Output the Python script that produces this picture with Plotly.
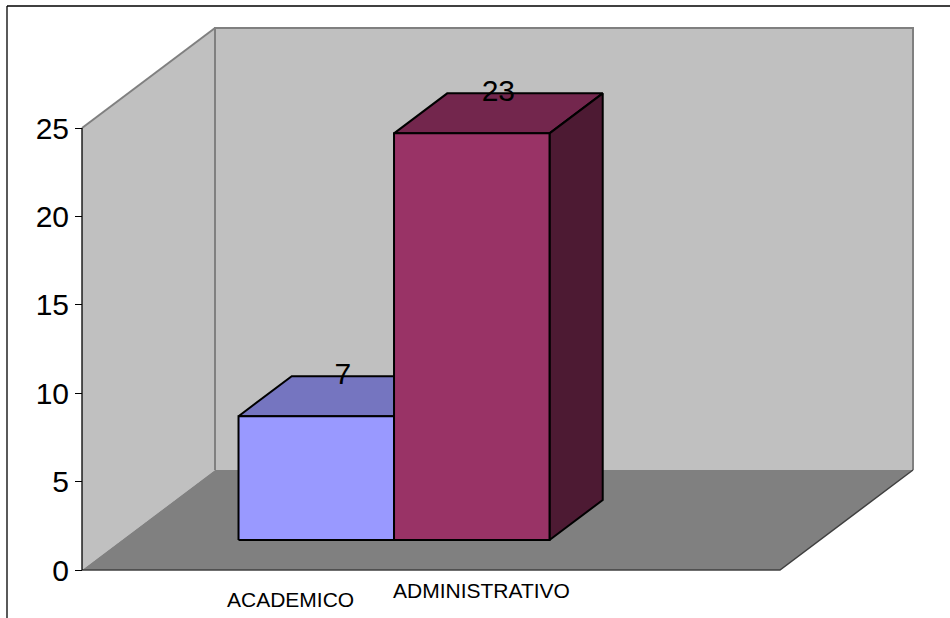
import plotly.graph_objects as go

# ---------------- data ----------------
categories = ["ACADEMICO", "ADMINISTRATIVO"]
values = [7, 23]
y_ticks = [0, 5, 10, 15, 20, 25]

# ---------------- styling / geometry ----------------
FONT = "Liberation Sans, Arial, sans-serif"
FRONT_COLORS = ["#9999FF", "#993366"]
TOP_COLORS = ["#7575C0", "#73264D"]
SIDE_COLORS = ["#5B5B99", "#4D1A33"]
WALL_COLOR = "#C0C0C0"
FLOOR_COLOR = "#808080"
WALL_EDGE = "#808080"

W, H = 950, 618
X0_PX, X_SCALE = 82.0, 155.5      # px of x=0, px per x unit (bar width)
Y0_PX, Y_SCALE = 570.0, 17.68     # px of value 0, px per value unit

BAR_W = 1.0
FIRST_BAR = 0.75
DX = 133.0 / X_SCALE              # full depth, x units
DY = 100.0 / Y_SCALE              # full depth, value units
D0, D1 = 0.3, 0.7                 # bar depth range
FLOOR_LEN = (780.0 - X0_PX) / X_SCALE
WALL_TOP = y_ticks[-1]

x_range = [-X0_PX / X_SCALE, (W - X0_PX) / X_SCALE]
y_range = [-(H - Y0_PX) / Y_SCALE, Y0_PX / Y_SCALE]

fig = go.Figure()


def poly(xs, ys, fill, line_color=None, line_width=0):
    fig.add_trace(go.Scatter(
        x=xs + [xs[0]], y=ys + [ys[0]], mode="lines", fill="toself",
        fillcolor=fill,
        line=dict(color=line_color or fill, width=line_width),
        hoverinfo="skip", showlegend=False))


def line(xs, ys, color, width):
    fig.add_trace(go.Scatter(
        x=xs, y=ys, mode="lines", line=dict(color=color, width=width),
        hoverinfo="skip", showlegend=False))


# back wall
poly([DX, FLOOR_LEN + DX, FLOOR_LEN + DX, DX],
     [DY, DY, WALL_TOP + DY, WALL_TOP + DY], WALL_COLOR)
# left wall
poly([0, 0, DX, DX], [0, WALL_TOP, WALL_TOP + DY, DY], WALL_COLOR)
# floor
poly([0, FLOOR_LEN, FLOOR_LEN + DX, DX], [0, 0, DY, DY], FLOOR_COLOR)

# wall edges
line([DX, DX, FLOOR_LEN + DX, FLOOR_LEN + DX],
     [DY, WALL_TOP + DY, WALL_TOP + DY, DY], WALL_EDGE, 2)
line([0, DX], [WALL_TOP, WALL_TOP + DY], WALL_EDGE, 2)
# floor front edges
line([0, FLOOR_LEN, FLOOR_LEN + DX], [0, 0, DY], "#404040", 1.5)
# value axis line
line([0, 0], [0, WALL_TOP], "black", 1.3)

# bars (painter's order)
for i, v in enumerate(values):
    xl = FIRST_BAR + i * BAR_W
    xr = xl + BAR_W
    # top face
    poly([xl + D0 * DX, xr + D0 * DX, xr + D1 * DX, xl + D1 * DX],
         [v + D0 * DY, v + D0 * DY, v + D1 * DY, v + D1 * DY],
         TOP_COLORS[i], "black", 2)
    # side face
    poly([xr + D0 * DX, xr + D1 * DX, xr + D1 * DX, xr + D0 * DX],
         [v + D0 * DY, v + D1 * DY, D1 * DY, D0 * DY],
         SIDE_COLORS[i], "black", 2)
    # front face
    poly([xl + D0 * DX, xr + D0 * DX, xr + D0 * DX, xl + D0 * DX],
         [D0 * DY, D0 * DY, v + D0 * DY, v + D0 * DY],
         FRONT_COLORS[i], "black", 2)

# data labels
fig.add_trace(go.Scatter(
    x=[FIRST_BAR + i * BAR_W + BAR_W / 2 + (D0 + D1) / 2 * DX for i in range(len(values))],
    y=[v + D1 * DY for v in values],
    text=[str(v) for v in values], mode="text",
    textposition="middle center",
    textfont=dict(family=FONT, size=30, color="black"),
    hoverinfo="skip", showlegend=False, cliponaxis=False))

# category labels
CAT_LABEL_X = [1.344, 2.566]
CAT_LABEL_Y_PX = [599, 590.5]
for name, lx, ly in zip(categories, CAT_LABEL_X, CAT_LABEL_Y_PX):
    fig.add_annotation(x=lx, xref="x", y=1 - ly / H, yref="paper",
                       text=name, showarrow=False, xanchor="center",
                       yanchor="middle",
                       font=dict(family=FONT, size=21, color="black"))

# figure border (top and left edges visible in the frame)
fig.add_shape(type="line", xref="paper", yref="paper",
              x0=7 / W, y0=1 - 6 / H, x1=1.0, y1=1 - 6 / H,
              line=dict(color="black", width=1.3), layer="above")
fig.add_shape(type="line", xref="paper", yref="paper",
              x0=7 / W, y0=1 - 6 / H, x1=7 / W, y1=0.0,
              line=dict(color="black", width=1.3), layer="above")

fig.update_layout(
    width=W, height=H,
    margin=dict(l=0, r=0, t=0, b=0),
    paper_bgcolor="white", plot_bgcolor="white",
    xaxis=dict(range=x_range, visible=False, fixedrange=True),
    yaxis=dict(range=y_range, anchor="free", position=X0_PX / W,
               tickmode="array", tickvals=y_ticks,
               ticks="outside", ticklen=7, tickcolor="black", tickwidth=1,
               showgrid=False, zeroline=False, showline=False,
               tickfont=dict(family=FONT, size=30, color="black"),
               fixedrange=True),
)

fig.write_html(
    "out.html",
    config={"displayModeBar": False},
    post_script="document.body.style.margin='0';document.body.style.overflow='hidden';",
)
